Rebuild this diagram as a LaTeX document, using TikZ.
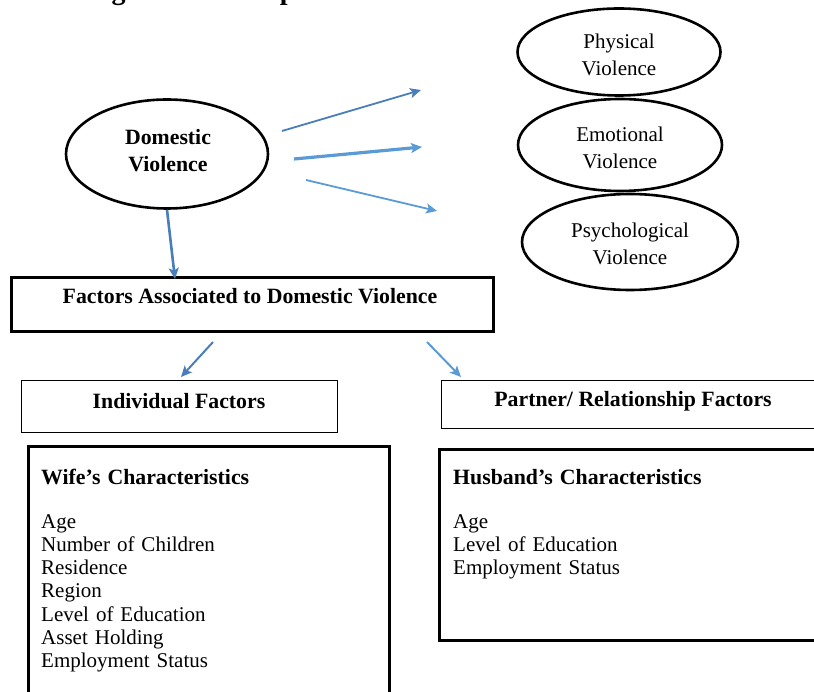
\documentclass[tikz,border=0pt]{standalone}
\usepackage{fontspec}
\setmainfont{Liberation Serif}
\usetikzlibrary{shapes.geometric,arrows.meta}
\definecolor{arrdark}{RGB}{74,126,187}
\definecolor{arrlight}{RGB}{91,155,213}
\begin{document}
\begin{tikzpicture}[x=1pt,y=-1pt,
  font=\fontsize{21}{23.2}\selectfont,
  oval/.style={draw, ellipse, line width=2.6pt, inner sep=0pt},
  ovaltext/.style={align=center, inner sep=0pt, font=\fontsize{21}{27}\selectfont},
  thickbox/.style={draw, rectangle, line width=2.8pt, anchor=north west, inner sep=0pt},
  thinbox/.style={draw, rectangle, line width=1.1pt, anchor=north west, inner sep=0pt},
  boxhead/.style={inner sep=0pt, font=\bfseries\fontsize{21.8}{23.2}\selectfont},
  listtext/.style={anchor=base west, align=left, text width=330pt, inner sep=0pt},
  arr/.style={-{Stealth[length=11pt,width=10pt,inset=2.5pt]}, line width=2pt},
]
\useasboundingbox (0,0) rectangle (814,692);
\clip (0,0) rectangle (814,692);

% cut-off title
\node[anchor=base, inner sep=0pt, font=\bfseries\fontsize{28}{32}\selectfont] (title) at (420,0) {Figure 1: Conceptual Framework on Domestic Violence};

% ellipses
\node[oval, minimum width=203pt, minimum height=87pt] (phys) at (619,52) {};
\node[ovaltext] (physT) at (619,55) {Physical\\Violence};
\node[oval, minimum width=204pt, minimum height=92pt] (emo) at (620,145) {};
\node[ovaltext] (emoT) at (620,148) {Emotional\\Violence};
\node[oval, minimum width=216pt, minimum height=96pt] (psy) at (630,242) {};
\node[ovaltext] (psyT) at (630,244) {Psychological\\Violence};
\node[oval, minimum width=202pt, minimum height=109pt] (dv) at (167,154) {};
\node[ovaltext, font=\bfseries\fontsize{21.8}{27}\selectfont] (dvT) at (168,151) {Domestic\\Violence};

% factors box
\node[thickbox, minimum width=482pt, minimum height=54pt] (fac) at (10,276) {};
\node[boxhead] (facT) at (250,296) {Factors Associated to Domestic Violence};

% second level boxes
\node[thinbox, minimum width=316pt, minimum height=52pt] (ind) at (21,380) {};
\node[boxhead] (indT) at (179,401) {Individual Factors};
\node[thinbox, minimum width=390pt, minimum height=48pt] (par) at (441,380) {};
\node[boxhead] (parT) at (633,401) {Partner/ Relationship Factors};

% characteristic boxes
\node[thickbox, minimum width=361pt, minimum height=300pt] (wife) at (27,445) {};
\node[listtext] (wifeT) at (41,484) {{\fontsize{21.8}{23.2}\selectfont\bfseries Wife’s Characteristics}\\[21pt]Age\\Number of Children\\Residence\\Region\\Level of Education\\Asset Holding\\Employment Status};
\node[thickbox, minimum width=400pt, minimum height=191pt] (hus) at (438,448) {};
\node[listtext] (husT) at (453,484) {{\fontsize{21.8}{23.2}\selectfont\bfseries Husband’s Characteristics}\\[21pt]Age\\Level of Education\\Employment Status};

% arrow end points
\coordinate (a1s) at (282,131);
\coordinate (a1e) at (421,90);
\coordinate (a2s) at (294,159);
\coordinate (a2e) at (422,147);
\coordinate (a3s) at (306,180);
\coordinate (a3e) at (437,211);
\coordinate (dn) at (175,279);
\coordinate (ls) at (213,342);
\coordinate (le) at (181,377);
\coordinate (rs) at (427,342);
\coordinate (re) at (461,377);

\draw[arr, arrdark, line width=1.8pt] (a1s) -- (a1e);
\draw[arr, arrlight, line width=3.2pt] (a2s) -- (a2e);
\draw[arr, arrlight, line width=1.8pt] (a3s) -- (a3e);
\draw[arr, arrdark, line width=2.6pt] (dv.south) -- (dn);
\draw[arr, arrdark, line width=2pt] (ls) -- (le);
\draw[arr, arrlight, line width=2pt] (rs) -- (re);
\end{tikzpicture}
\end{document}
